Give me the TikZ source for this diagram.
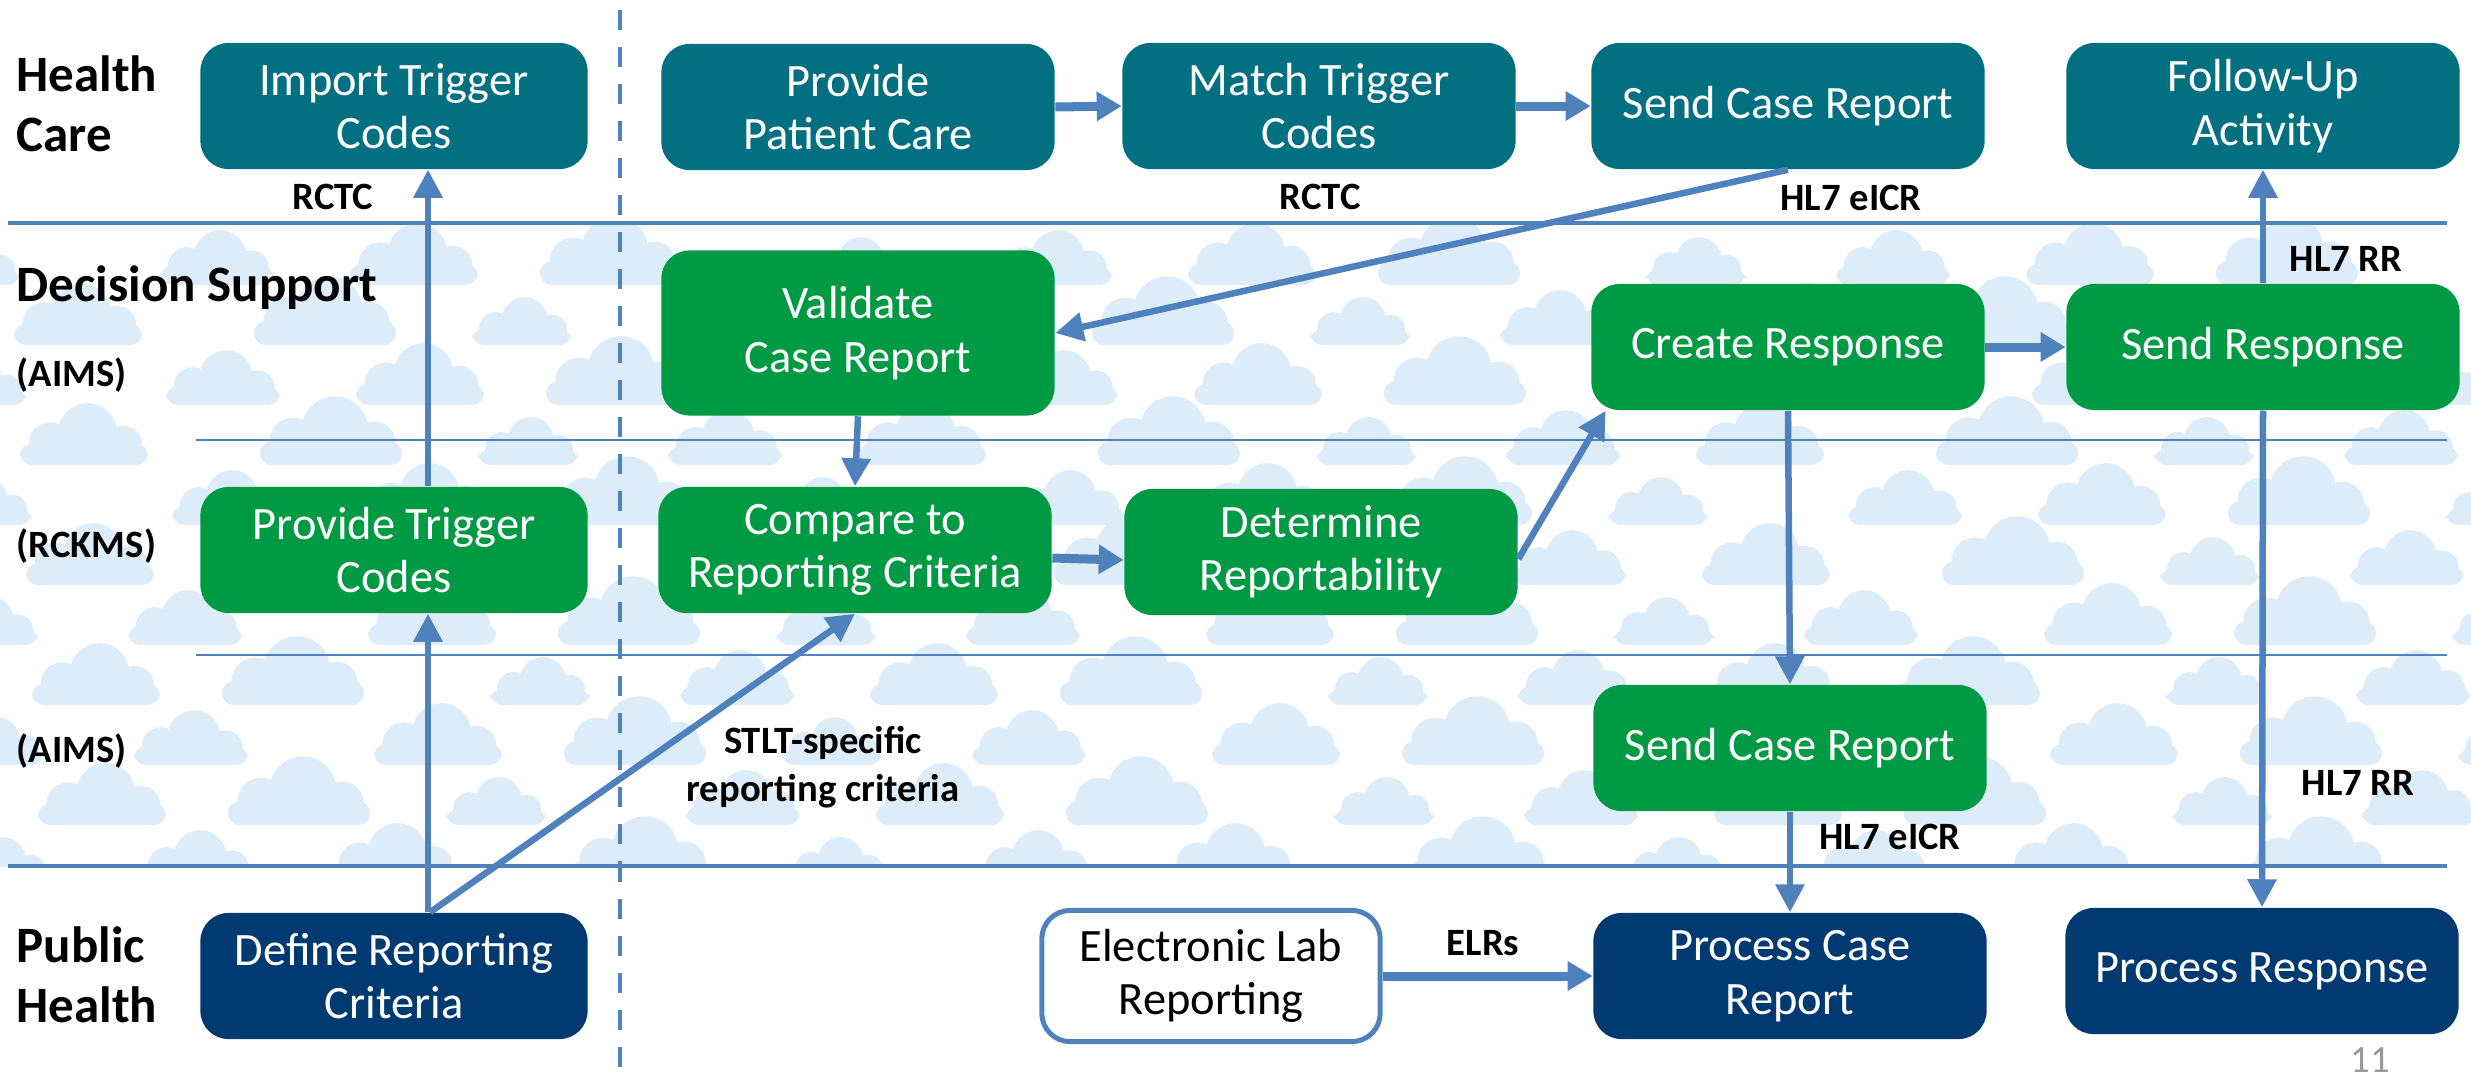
\documentclass[tikz,border=0pt]{standalone}
\usepackage{fontspec}
\setmainfont{Carlito}
\usepackage{tikz}
\usetikzlibrary{arrows.meta}

\definecolor{hcteal}{RGB}{3,112,129}
\definecolor{dsgreen}{RGB}{0,154,68}
\definecolor{phnavy}{RGB}{0,58,112}
\definecolor{linkblue}{RGB}{79,129,189}
\definecolor{cloudblue}{RGB}{220,236,248}

\newcommand{\cellfont}{\fontsize{13.2}{15.2}\selectfont}
\newcommand{\lanefont}{\fontsize{14.5}{17}\selectfont\bfseries}
\newcommand{\tagfont}{\fontsize{11}{13.5}\selectfont\bfseries}

\tikzset{
  pics/puff/.style={code={
    \fill[cloudblue, rounded corners=0.12cm] (-0.9cm,0cm) rectangle (0.9cm,0.3cm);
    \fill[cloudblue] (-0.48cm,0.3cm) circle (0.3cm);
    \fill[cloudblue] (0.05cm,0.45cm) circle (0.42cm);
    \fill[cloudblue] (0.55cm,0.28cm) circle (0.27cm);
  }},
  cell/.style={rounded corners=0.28cm, text=white, align=center, font=\cellfont,
    minimum width=3.93cm, minimum height=1.26cm, inner sep=0pt},
  hccell/.style={cell, fill=hcteal},
  dscell/.style={cell, fill=dsgreen},
  phcell/.style={cell, fill=phnavy},
  flow/.style={draw=linkblue, line width=0.065cm, -{Triangle[length=0.28cm,width=0.28cm]}},
  wideflow/.style={draw=linkblue, line width=0.09cm, -{Triangle[length=0.25cm,width=0.28cm]}},
  tag/.style={font=\tagfont, inner sep=0pt},
  lane/.style={font=\lanefont, align=left, anchor=west, inner sep=0pt},
  lanemain/.style={draw=linkblue, line width=0.04cm},
  lanefine/.style={draw=linkblue, line width=0.02cm},
  divider/.style={draw=linkblue, line width=0.04cm, dash pattern=on 0.2cm off 0.17cm},
}

\begin{document}
\begin{tikzpicture}[x=0.01cm,y=-0.01cm]
        \useasboundingbox (0,0) rectangle (2471,1081);

        \begin{scope}
          \clip (0,225) rectangle (2471,866);
          \foreach \r in {0,...,10}{
            \foreach \c in {0,...,12}{
              \pgfmathsetmacro{\cx}{\c*210+mod(\r,2)*105-30+mod(\c*37+\r*53,50)}
              \pgfmathsetmacro{\cy}{285+\r*60}
              \pgfmathsetmacro{\cs}{0.55+0.08*mod(\c+2*\r,4)}
              \pic[scale=\cs] at (\cx,\cy) {puff};
            }
          }
        \end{scope}

        \draw[lanemain] (8,223) -- (2447,223);
        \draw[lanefine] (196,440) -- (2447,440);
        \draw[lanefine] (196,655) -- (2447,655);
        \draw[lanemain] (8,866) -- (2447,866);
        \draw[divider] (620,10) -- (620,1081);

        \node[lane] (hc) at (16,104) {Health\\Care};
        \node[lane] (ds) at (16,288) {Decision Support};
        \node[lane, font=\tagfont] (aims1) at (16,375) {(AIMS)};
        \node[lane, font=\tagfont] (rckms) at (16,546) {(RCKMS)};
        \node[lane, font=\tagfont] (aims2) at (16,751) {(AIMS)};
        \node[lane] (ph) at (16,975) {Public\\Health};

        \node[hccell, minimum width=3.87cm] (itc) at (394,106) {Import Trigger\\Codes};
        \node[hccell] (ppc) at (858,107) {Provide\\Patient Care};
        \node[hccell] (mtc) at (1319,106) {Match Trigger\\Codes};
        \node[hccell] (scr) at (1788,106) {Send Case Report};
        \node[hccell] (fua) at (2263,106) {Follow-Up\\Activity};

        \node[dscell, minimum height=1.65cm] (vcr) at (858,333) {Validate\\Case Report};
        \node[dscell] (cre) at (1788,347) {Create Response};
        \node[dscell] (sre) at (2263,347) {Send Response};

        \node[dscell, minimum width=3.87cm] (ptc) at (394,550) {Provide Trigger\\Codes};
        \node[dscell] (crc) at (855,550) {Compare to\\Reporting Criteria};
        \node[dscell] (drp) at (1321,552) {Determine\\Reportability};

        \node[dscell] (scs) at (1790,748) {Send Case Report};

        \node[phcell, minimum width=3.87cm] (drc) at (394,976) {Define Reporting\\Criteria};
        \node[cell, fill=white, text=black, draw=linkblue, line width=0.05cm,
              minimum width=3.38cm, minimum height=1.31cm] (elr) at (1211,976) {Electronic Lab\\Reporting};
        \node[phcell] (pcr) at (1790,976) {Process Case\\Report};
        \node[phcell] (pre) at (2262,971) {Process Response};

        \draw[flow] ([xshift=0.34cm]drc.north) -- ([xshift=0.34cm]ptc.south);
        \draw[flow] ([xshift=0.34cm]ptc.north) -- ([xshift=0.34cm]itc.south);
        \draw[flow] ([xshift=0.36cm]drc.north) -- (crc.south);
        \draw[wideflow] (ppc.east) -- (mtc.west);
        \draw[wideflow] (mtc.east) -- (scr.west);
        \draw[flow] (scr.south) -- (vcr.east);
        \draw[flow] (vcr.south) -- (crc.north);
        \draw[wideflow] ([yshift=-0.08cm]crc.east) -- ([yshift=-0.08cm]drp.west);
        \draw[flow] ([yshift=-0.07cm]drp.east) -- ([xshift=0.15cm]cre.south west);
        \draw[wideflow] (cre.east) -- (sre.west);
        \draw[flow] (sre.north) -- (fua.south);
        \draw[flow] (cre.south) -- (scs.north);
        \draw[flow] (scs.south) -- (pcr.north);
        \draw[flow] (sre.south) -- (pre.north);
        \draw[wideflow] (elr.east) -- (pcr.west);

        \node[tag] (rctca) at (333,197) {RCTC};
        \node[tag] (rctcb) at (1320,197) {RCTC};
        \node[tag] (eicra) at (1851,198) {HL7 eICR};
        \node[tag] (rra) at (2346,259) {HL7 RR};
        \node[tag, align=center] (stlt) at (823,767) {STLT-specific\\reporting criteria};
        \node[tag] (eicrb) at (1890,837) {HL7 eICR};
        \node[tag] (rrb) at (2358,783) {HL7 RR};
        \node[tag] (elrs) at (1483,943) {ELRs};
        \node[font=\tagfont\mdseries, text=black!40, inner sep=0pt] (pgno) at (2370,1060) {11};
\end{tikzpicture}
\end{document}
